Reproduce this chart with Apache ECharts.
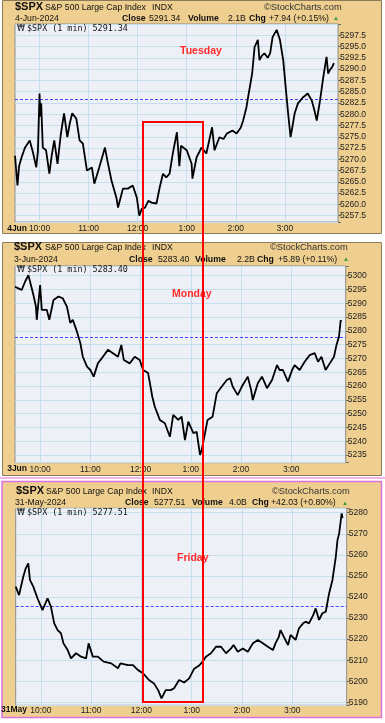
<!DOCTYPE html>
<html><head><meta charset="utf-8">
<script src="https://cdn.jsdelivr.net/npm/echarts@6/dist/echarts.min.js"></script>
<style>html,body{margin:0;padding:0;background:#fff}#c{width:385px;height:723px}</style>
</head><body><div id="c"></div>
<script>
// ---- data ----
const sessionMinutes = 396; // minutes after 9:30 shown on each time axis
const hourTickMinutes = [30, 90, 150, 210, 270, 330];
const hourTickLabels = ["10:00", "11:00", "12:00", "1:00", "2:00", "3:00"];

// Tuesday 4-Jun-2024 (minutes after 9:30, index level)
const tueMinute = [0,3,5,8,12,18,22,26,28,30,31,32,34,38,42,45,48,52,56,60,64,67,70,75,79,83,88,94,97,103,110,113,118,124,126,132,138,144,149,152,155,159,163,167,173,177,181,185,189,193,198,201,203,205,210,216,217,222,228,234,241,244,250,255,259,266,271,276,279,283,285,290,293,297,299,302,305,309,312,315,320,324,328,331,334,337,340,342,346,352,358,363,366,369,373,377,381,383,385,388,390];
const tueValue = [5270.8,5264.2,5268.5,5270.4,5272.5,5274.2,5271.5,5268.2,5271.8,5284.6,5279.5,5282.4,5272.6,5272.0,5266.8,5271.0,5274.2,5269.0,5275.5,5280.2,5274.9,5278.0,5280.2,5279.0,5274.2,5273.5,5267.5,5268.2,5264.6,5268.2,5272.6,5269.7,5265.3,5261.5,5259.3,5263.5,5263.5,5264.2,5261.5,5257.5,5259.0,5259.3,5260.8,5260.4,5260.2,5263.8,5266.8,5266.0,5266.8,5271.3,5276.0,5268.5,5273.0,5272.6,5272.0,5269.0,5265.7,5270.4,5272.6,5271.3,5277.1,5272.0,5274.9,5274.5,5275.7,5276.4,5275.7,5277.0,5278.6,5281.5,5283.7,5289.0,5294.9,5296.5,5292.0,5293.0,5293.5,5292.5,5293.5,5297.1,5298.7,5296.5,5292.0,5286.0,5280.2,5274.9,5278.0,5280.2,5282.4,5283.7,5284.6,5283.0,5281.0,5278.6,5283.0,5288.2,5292.7,5289.0,5289.8,5290.5,5291.34];

// Monday 3-Jun-2024
const monMinute = [0,4,8,12,16,19,22,25,26,30,32,38,41,46,52,57,62,66,69,74,78,81,86,90,94,99,105,111,117,123,127,130,137,143,149,153,159,164,167,173,179,185,189,195,199,203,207,209,213,217,221,223,227,230,236,241,247,253,257,260,266,271,278,282,284,290,295,301,307,313,316,320,326,331,334,340,346,352,358,362,366,371,376,381,384,387,389,390];
const monValue = [5296.0,5295.4,5294.8,5297.8,5300.2,5296.6,5293.0,5288.8,5284.0,5296.6,5287.6,5287.6,5284.0,5291.2,5292.4,5291.8,5288.8,5282.9,5284.0,5279.7,5275.6,5270.6,5267.0,5265.8,5263.4,5268.2,5270.6,5273.1,5271.9,5270.6,5274.9,5269.4,5268.2,5270.6,5269.4,5265.8,5264.7,5256.1,5252.5,5247.7,5246.5,5241.6,5249.5,5247.7,5248.9,5240.4,5247.1,5246.5,5242.9,5243.4,5235.0,5236.8,5242.9,5247.7,5248.9,5257.4,5259.8,5262.2,5262.8,5259.8,5256.7,5259.8,5263.4,5258.6,5254.9,5261.0,5263.4,5259.2,5262.2,5267.6,5265.8,5265.8,5261.6,5265.8,5267.6,5265.8,5268.8,5271.2,5271.9,5268.8,5270.6,5265.8,5268.2,5270.6,5274.9,5277.9,5283.8,5283.4];

// Friday 31-May-2024
const friMinute = [0,4,9,12,15,17,21,26,32,38,42,46,50,54,57,62,66,72,78,84,87,92,98,105,114,122,125,134,140,146,152,159,165,170,174,179,185,189,195,201,207,213,219,223,227,233,239,245,251,257,260,265,271,277,283,289,295,301,307,310,314,316,320,325,328,334,338,343,346,350,355,358,362,366,370,374,378,382,384,386,388,389,390];
const friValue = [5244.9,5240.9,5249.6,5253.6,5256.0,5248.1,5244.9,5239.4,5233.8,5239.4,5235.4,5227.5,5224.3,5222.8,5218.0,5214.8,5210.9,5213.3,5211.7,5210.9,5218.0,5211.7,5211.7,5209.3,5208.5,5206.2,5208.5,5207.7,5207.7,5205.3,5203.8,5200.6,5199.0,5195.8,5191.9,5195.8,5195.8,5196.7,5200.6,5199.4,5201.4,5206.0,5207.5,5209.3,5211.7,5213.3,5216.4,5216.4,5213.3,5215.6,5217.2,5214.0,5215.6,5214.0,5218.0,5219.6,5218.0,5216.4,5214.8,5218.0,5221.1,5224.3,5221.1,5217.2,5222.0,5219.6,5225.1,5227.5,5228.3,5227.5,5231.4,5234.6,5229.1,5232.3,5233.0,5241.7,5248.1,5259.1,5267.0,5270.2,5276.5,5279.7,5277.51];

// y tick labels
const tueTicks = [5257.5,5260,5262.5,5265,5267.5,5270,5272.5,5275,5277.5,5280,5282.5,5285,5287.5,5290,5292.5,5295,5297.5];
const monTicks = [5235,5240,5245,5250,5255,5260,5265,5270,5275,5280,5285,5290,5295,5300];
const friTicks = [5190,5200,5210,5220,5230,5240,5250,5260,5270,5280];

// previous closes (dashed reference lines)
const tuePrevClose = 5283.40;
const monPrevClose = 5277.51;
const friPrevClose = 5235.48;

// header texts
const tueHeader = {date: "4-Jun-2024", axisDate: "4Jun", close: "5291.34", volume: "2.1B", chg: "+7.94 (+0.15%)", day: "Tuesday"};
const monHeader = {date: "3-Jun-2024", axisDate: "3Jun", close: "5283.40", volume: "2.2B", chg: "+5.89 (+0.11%)", day: "Monday"};
const friHeader = {date: "31-May-2024", axisDate: "31May", close: "5277.51", volume: "4.0B", chg: "+42.03 (+0.80%)", day: "Friday"};

// ---- layout ----
const FONT = "'Liberation Sans', Arial, sans-serif";
const panels = [
  {minute: tueMinute, value: tueValue, ticks: tueTicks, step: 2.5, dec: 1, prev: tuePrevClose, h: tueHeader,
   grid: {left: 15, top: 24, width: 323, height: 198}, min: 5256.1, max: 5300.0,
   box: [2.5, 0.5, 379, 233], titleY: 7, rowY: 18.5, legY: 29, dayX: 180, dayY: 51, axisLabelY: 228.5, lblMargin: 2,
   xs: {title: 15, sub: 45, indx: 152, sc: 264, date: 15, closeL: 122, closeV: 148, volL: 188, volV: 228, chgL: 249, chgV: 268, tri: 333}},
  {minute: monMinute, value: monValue, ticks: monTicks, step: 5, dec: 0, prev: monPrevClose, h: monHeader,
   grid: {left: 15, top: 266, width: 330.7, height: 196.7}, min: 5232.2, max: 5303.5,
   box: [2.5, 242.5, 379, 233], titleY: 247, rowY: 259.5, legY: 270, dayX: 172, dayY: 294, axisLabelY: 468.5, lblMargin: 2,
   xs: {title: 14, sub: 45, indx: 152, sc: 270, date: 14, closeL: 129, closeV: 157, volL: 195, volV: 237, chgL: 257, chgV: 277, tri: 343}},
  {minute: friMinute, value: friValue, ticks: friTicks, step: 10, dec: 0, prev: friPrevClose, h: friHeader,
   grid: {left: 15.7, top: 508.3, width: 331, height: 197}, min: 5188.6, max: 5282.1,
   box: [2, 481.5, 379.5, 236], titleY: 491, rowY: 503, legY: 513, dayX: 177, dayY: 558, axisLabelY: 710, lblMargin: 1,
   xs: {title: 16, sub: 46, indx: 152, sc: 272, date: 15, closeL: 125, closeV: 153, volL: 192, volV: 229, chgL: 252, chgV: 270, tri: 342}, pink: true}
];

const categories = Array.from({length: sessionMinutes}, (_, i) => String(i));
const isHourTick = (i) => hourTickMinutes.indexOf(i) >= 0;

const grids = [], xAxes = [], yAxes = [], series = [], graphics = [];

function txt(x, y, text, size, opts) {
  opts = opts || {};
  graphics.push({type: 'text', x: x, y: y, z: 20, silent: true,
    style: {text: text, fill: opts.fill || '#111', fontSize: size, fontWeight: opts.bold ? 'bold' : 'normal',
      fontFamily: opts.family || FONT, align: opts.align || 'left', verticalAlign: 'middle'}});
}

panels.forEach((p, i) => {
  grids.push(Object.assign({show: true, backgroundColor: '#eef0f8', borderColor: '#8c8c8c', borderWidth: 1, containLabel: false}, p.grid));
  xAxes.push({type: 'category', gridIndex: i, data: categories, boundaryGap: false,
    axisLine: {show: false}, axisTick: {show: false},
    axisLabel: {interval: (idx) => isHourTick(idx), margin: p.lblMargin, fontSize: 8.5, color: '#222', fontFamily: FONT,
      formatter: (v, idx) => { const k = hourTickMinutes.indexOf(Number(v)); return k >= 0 ? hourTickLabels[k] : ''; }},
    splitLine: {show: true, interval: (idx) => isHourTick(idx), lineStyle: {color: '#c6dfec', width: 1}}});
  yAxes.push({type: 'value', gridIndex: i, position: 'right', min: p.min, max: p.max, scale: true,
    minInterval: p.step, maxInterval: p.step,
    axisLine: {show: false}, axisTick: {show: true, length: 3, lineStyle: {color: '#666'}},
    axisLabel: {margin: 2, fontSize: 8.5, color: '#222', fontFamily: FONT,
      formatter: (v) => p.ticks.some(t => Math.abs(t - v) < 1e-6) ? v.toFixed(p.dec) : ''},
    splitLine: {show: true, lineStyle: {color: '#c6dfec', width: 1}}});
  series.push({type: 'line', xAxisIndex: i, yAxisIndex: i, showSymbol: false, symbol: 'none',
    data: p.minute.map((m, k) => [m, p.value[k]]),
    lineStyle: {color: '#000', width: 1.8}, z: 5,
    markLine: {silent: true, symbol: 'none', animation: false, label: {show: false},
      lineStyle: {color: '#4646ff', type: [3, 2], width: 1}, data: [{yAxis: p.prev}]}});

  // outer tan box
  graphics.push({type: 'rect', z: -10, silent: true,
    shape: {x: p.box[0], y: p.box[1], width: p.box[2], height: p.box[3]},
    style: {fill: '#efcf8f', stroke: p.pink ? '#e070e0' : '#8b7b5a', lineWidth: p.pink ? 1.5 : 1}});

  const xs = p.xs, h = p.h;
  txt(xs.title, p.titleY, '$SPX', 11, {bold: true});
  txt(xs.sub, p.titleY + 0.5, 'S&P 500 Large Cap Index', 8.7);
  txt(xs.indx, p.titleY + 0.5, 'INDX', 8.7);
  txt(xs.sc, p.titleY + 0.5, '©StockCharts.com', 9.3, {fill: '#333'});
  txt(xs.date, p.rowY, h.date, 8.7);
  txt(xs.closeL, p.rowY, 'Close', 8.7, {bold: true});
  txt(xs.closeV + 1, p.rowY, h.close, 8.7);
  txt(xs.volL, p.rowY, 'Volume', 8.7, {bold: true});
  txt(xs.volV, p.rowY, h.volume, 8.7);
  txt(xs.chgL, p.rowY, 'Chg', 8.7, {bold: true});
  txt(xs.chgV + 1, p.rowY, h.chg, 8.7);
  txt(xs.tri, p.rowY, '▲', 6, {fill: '#2e9a3a'});
  txt(17, p.legY, '₩', 8, {family: "'DejaVu Sans', sans-serif"});
  txt(27, p.legY, '$SPX (1 min) ' + h.close, 8.4, {family: "'DejaVu Sans Mono', monospace"});
  txt(p.dayX, p.dayY, h.day, 10.5, {bold: true, fill: '#ff2a2a'});
  txt(27, p.axisLabelY, h.axisDate, 8.5, {bold: true, align: 'right'});
});

// pink separator line above Friday panel
graphics.push({type: 'rect', z: -10, silent: true, shape: {x: 0, y: 477.5, width: 385, height: 1}, style: {fill: '#e070e0'}});
// red highlight box
graphics.push({type: 'rect', z: 100, silent: true, shape: {x: 143, y: 122, width: 60, height: 580},
  style: {fill: 'none', stroke: '#ff0000', lineWidth: 2}});

const chart = echarts.init(document.getElementById('c'), null, {renderer: 'canvas'});
chart.setOption({
  animation: false,
  backgroundColor: '#ffffff',
  grid: grids, xAxis: xAxes, yAxis: yAxes, series: series,
  graphic: {elements: graphics}
});
</script></body></html>
